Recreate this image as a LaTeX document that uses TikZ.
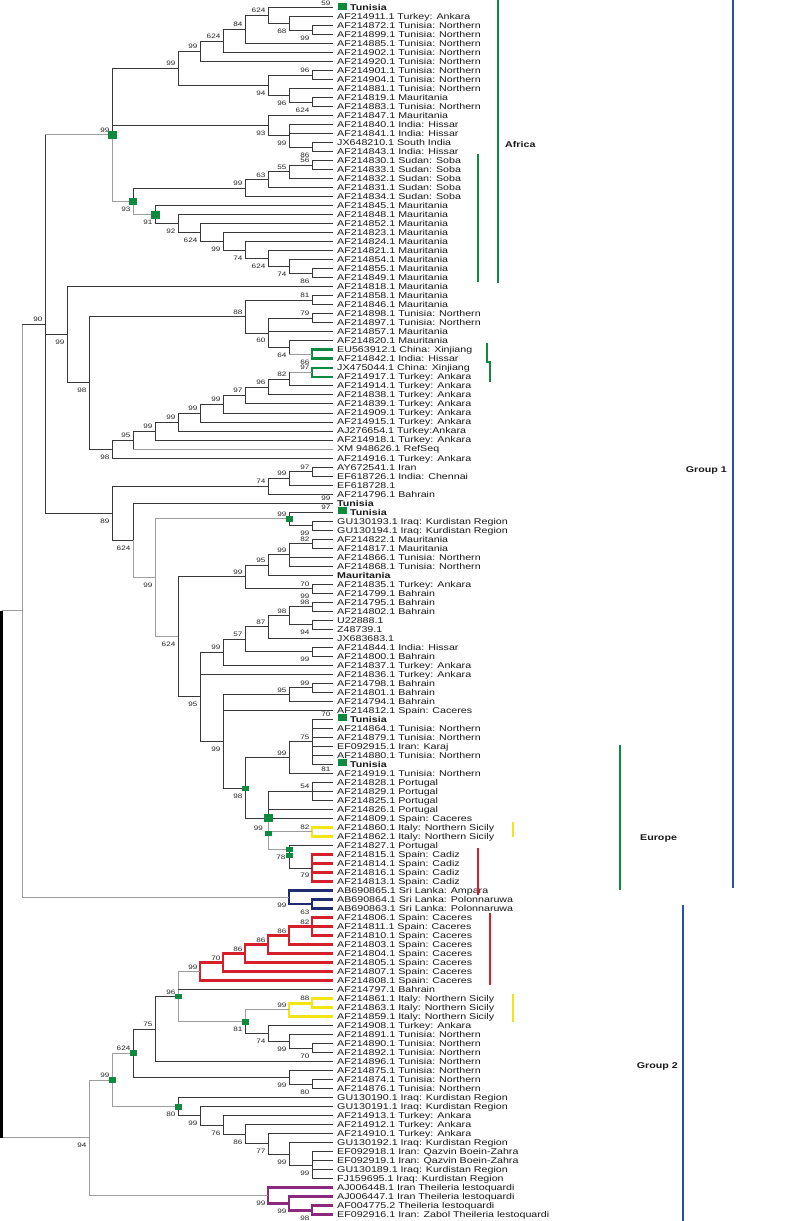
\documentclass[tikz,border=0pt]{standalone}
\usepackage{fontspec}
\setmainfont{Liberation Sans}[FakeStretch=1.27]
\usetikzlibrary{calc}
\definecolor{grn}{RGB}{14,138,62}
\definecolor{redc}{RGB}{213,32,44}
\definecolor{yelc}{RGB}{245,228,20}
\definecolor{navc}{RGB}{30,45,110}
\definecolor{purc}{RGB}{140,40,125}
\definecolor{bluc}{RGB}{40,80,165}
\newcommand{\leaffont}{\fontsize{8.4}{9}\selectfont}
\newcommand{\bsfont}{\fontsize{6.4}{7}\selectfont}
\newcommand{\mkcl}[4]{\path let \p1=(#3), \p2=(#4) in coordinate (#1) at (#2pt,{0.5*(\y1)+0.5*(\y2)});}
\newcommand{\clade}[5][br]{\mkcl{#2}{#3}{#4}{#5}\draw[#1] (#4) -- (#2 |- #4) -- (#2 |- #5) -- (#5);}
\newcommand{\hcon}[3][br]{\draw[#1] (#2 |- #3) -- (#3);}
\newcommand{\bsA}[2]{\node[bsa] at (#1) {#2};}
\newcommand{\bsB}[2]{\node[bsb] at (#1) {#2};}
\newcommand{\nsq}[3]{\fill[grn] ([shift={(-#2/2,-#3/2)}]#1) rectangle ++(#2,#3);}
\newcommand{\lsq}[1]{\fill[grn] ([shift={(5,-5)}]#1) rectangle ++(9,7);}
\begin{document}
\begin{tikzpicture}[x=1pt,y=-1pt,
 br/.style={draw=black!78,line width=0.9pt},
 lbr/.style={draw=black!38,line width=0.9pt},
 gth/.style={draw=grn,line width=2.8pt,line join=miter},
 rth/.style={draw=redc,line width=2.8pt,line join=miter},
 yth/.style={draw=yelc,line width=2.8pt,line join=miter},
 nth/.style={draw=navc,line width=2.8pt,line join=miter},
 pth/.style={draw=purc,line width=2.8pt,line join=miter},
 leaf/.style={anchor=base west,inner sep=0pt,font=\leaffont,xshift=4pt,yshift=-3pt,text=black!90},
 bleaf/.style={leaf,font=\leaffont\bfseries},
 bsa/.style={anchor=base east,inner sep=0pt,font=\bsfont,xshift=-2.5pt,yshift=2.5pt,text=black!85},
 bsb/.style={anchor=base east,inner sep=0pt,font=\bsfont,xshift=-2.5pt,yshift=-10pt,text=black!85},
 grp/.style={inner sep=0pt,font=\leaffont\bfseries,text=black!90}]
\useasboundingbox (0,0) rectangle (788,1221);
\fill[white] (0,0) rectangle (788,1221);
\foreach \i in {1,...,135}{\coordinate (t\i) at (333,{7.5+9.01*(\i-1)});}
% ---------- leaf labels
\foreach \i/\s in {2/AF214911.1 Turkey: Ankara,3/AF214872.1 Tunisia: Northern,4/AF214899.1 Tunisia: Northern,5/AF214885.1 Tunisia: Northern,6/AF214902.1 Tunisia: Northern,7/AF214920.1 Tunisia: Northern,8/AF214901.1 Tunisia: Northern,9/AF214904.1 Tunisia: Northern,10/AF214881.1 Tunisia: Northern,11/AF214819.1 Mauritania,12/AF214883.1 Tunisia: Northern,13/AF214847.1 Mauritania,14/AF214840.1 India: Hissar,15/AF214841.1 India: Hissar,16/JX648210.1 South India,17/AF214843.1 India: Hissar,18/AF214830.1 Sudan: Soba,19/AF214833.1 Sudan: Soba,20/AF214832.1 Sudan: Soba,21/AF214831.1 Sudan: Soba,22/AF214834.1 Sudan: Soba,23/AF214845.1 Mauritania,24/AF214848.1 Mauritania,25/AF214852.1 Mauritania,26/AF214823.1 Mauritania,27/AF214824.1 Mauritania,28/AF214821.1 Mauritania,29/AF214854.1 Mauritania,30/AF214855.1 Mauritania,31/AF214849.1 Mauritania,32/AF214818.1 Mauritania,33/AF214858.1 Mauritania,34/AF214846.1 Mauritania,35/AF214898.1 Tunisia: Northern,36/AF214897.1 Tunisia: Northern,37/AF214857.1 Mauritania,38/AF214820.1 Mauritania,39/EU563912.1 China: Xinjiang,40/AF214842.1 India: Hissar,41/JX475044.1 China: Xinjiang,42/AF214917.1 Turkey: Ankara,43/AF214914.1 Turkey: Ankara,44/AF214838.1 Turkey: Ankara,45/AF214839.1 Turkey: Ankara,46/AF214909.1 Turkey: Ankara,47/AF214915.1 Turkey: Ankara,48/AJ276654.1 Turkey:Ankara,49/AF214918.1 Turkey: Ankara,50/XM 948626.1 RefSeq,51/AF214916.1 Turkey: Ankara,52/AY672541.1 Iran,53/EF618726.1 India: Chennai,54/EF618728.1,55/AF214796.1 Bahrain,58/GU130193.1 Iraq: Kurdistan Region,59/GU130194.1 Iraq: Kurdistan Region,60/AF214822.1 Mauritania,61/AF214817.1 Mauritania,62/AF214866.1 Tunisia: Northern,63/AF214868.1 Tunisia: Northern,65/AF214835.1 Turkey: Ankara,66/AF214799.1 Bahrain,67/AF214795.1 Bahrain,68/AF214802.1 Bahrain,69/U22888.1,70/Z48739.1,71/JX683683.1,72/AF214844.1 India: Hissar,73/AF214800.1 Bahrain,74/AF214837.1 Turkey: Ankara,75/AF214836.1 Turkey: Ankara,76/AF214798.1 Bahrain,77/AF214801.1 Bahrain,78/AF214794.1 Bahrain,79/AF214812.1 Spain: Caceres,81/AF214864.1 Tunisia: Northern,82/AF214879.1 Tunisia: Northern,83/EF092915.1 Iran: Karaj,84/AF214880.1 Tunisia: Northern,86/AF214919.1 Tunisia: Northern,87/AF214828.1 Portugal,88/AF214829.1 Portugal,89/AF214825.1 Portugal,90/AF214826.1 Portugal,91/AF214809.1 Spain: Caceres,92/AF214860.1 Italy: Northern Sicily,93/AF214862.1 Italy: Northern Sicily,94/AF214827.1 Portugal,95/AF214815.1 Spain: Cadiz,96/AF214814.1 Spain: Cadiz,97/AF214816.1 Spain: Cadiz,98/AF214813.1 Spain: Cadiz,99/AB690865.1 Sri Lanka: Ampara,100/AB690864.1 Sri Lanka: Polonnaruwa,101/AB690863.1 Sri Lanka: Polonnaruwa,102/AF214806.1 Spain: Caceres,103/AF214811.1 Spain: Caceres,104/AF214810.1 Spain: Caceres,105/AF214803.1 Spain: Caceres,106/AF214804.1 Spain: Caceres,107/AF214805.1 Spain: Caceres,108/AF214807.1 Spain: Caceres,109/AF214808.1 Spain: Caceres,110/AF214797.1 Bahrain,111/AF214861.1 Italy: Northern Sicily,112/AF214863.1 Italy: Northern Sicily,113/AF214859.1 Italy: Northern Sicily,114/AF214908.1 Turkey: Ankara,115/AF214891.1 Tunisia: Northern,116/AF214890.1 Tunisia: Northern,117/AF214892.1 Tunisia: Northern,118/AF214896.1 Tunisia: Northern,119/AF214875.1 Tunisia: Northern,120/AF214874.1 Tunisia: Northern,121/AF214876.1 Tunisia: Northern,122/GU130190.1 Iraq: Kurdistan Region,123/GU130191.1 Iraq: Kurdistan Region,124/AF214913.1 Turkey: Ankara,125/AF214912.1 Turkey: Ankara,126/AF214910.1 Turkey: Ankara,127/GU130192.1 Iraq: Kurdistan Region,128/EF092918.1 Iran: Qazvin Boein-Zahra,129/EF092919.1 Iran: Qazvin Boein-Zahra,130/GU130189.1 Iraq: Kurdistan Region,131/FJ159695.1 Iraq: Kurdistan Region,132/AJ006448.1 Iran Theileria lestoquardi,133/AJ006447.1 Iran Theileria lestoquardi,134/AF004775.2 Theileria lestoquardi,135/EF092916.1 Iran: Zabol Theileria lestoquardi}
 {\node[leaf] (L\i) at (t\i) {\s};}
\foreach \i in {1,57,80,85}{\lsq{t\i}\node[bleaf,xshift=13pt] (L\i) at (t\i) {Tunisia};}
\node[bleaf] (L56) at (t56) {Tunisia};
\node[bleaf] (L64) at (t64) {Mauritania};
\bsA{t1}{59} \bsA{t57}{97} \bsA{t56}{99} \bsA{t80}{70}
\node[bsb,yshift=2.5pt] at (t85) {81};
% ---------- Africa block
\clade{a1}{312}{t3}{t4} \bsB{a1}{99}
\clade{a2}{289}{t2}{a1} \bsB{a2}{68}
\clade{a3}{268}{t1}{a2} \bsA{a3}{624}
\clade{a4}{245}{a3}{t5} \bsA{a4}{84}
\clade{a5}{223}{a4}{t6} \bsA{a5}{624}
\clade{a6}{200}{a5}{t7} \bsA{a6}{99}
\clade{a7}{312}{t8}{t9} \bsA{a7}{96}
\clade{a8}{312}{t11}{t12} \bsB{a8}{624}
\clade{a9}{289}{t10}{a8} \bsB{a9}{96}
\clade{a10}{268}{a7}{a9} \bsB{a10}{94}
\clade{a11}{178}{a6}{a10} \bsA{a11}{99}
\clade{a12}{312}{t16}{t17} \bsB{a12}{86}
\clade{a13}{289}{t14}{a12} \hcon{a13}{t15} \bsB{a13}{99}
\clade{a14}{268}{t13}{a13} \bsB{a14}{93}
\clade{s1}{312}{t18}{t19} \bsA{s1}{56}
\clade{s2}{289}{s1}{t20} \bsA{s2}{55}
\clade{s3}{268}{s2}{t21} \bsA{s3}{63}
\clade{s4}{245}{s3}{t22} \bsA{s4}{99}
\clade{m1}{312}{t30}{t31} \bsB{m1}{86}
\clade{m2}{289}{t29}{m1} \bsB{m2}{74}
\clade{m3}{268}{t28}{m2} \bsB{m3}{624}
\clade{m4}{245}{t27}{m3} \bsB{m4}{74}
\clade{m5}{223}{t26}{m4} \bsB{m5}{99}
\clade{m6}{200}{t25}{m5} \bsB{m6}{624}
\clade{m7}{178}{t24}{m6} \bsB{m7}{92}
\clade{m8}{155}{t23}{m7} \bsB{m8}{91}
\mkcl{I}{133}{s4}{m8}
\draw[br] (s4) -- (I |- s4) -- (I);
\draw[lbr] (I) -- (I |- m8) -- (m8);
\bsB{I}{93}
\mkcl{H}{112}{a11}{I}
\draw[br] (a11) -- (H |- a11) -- (H);
\draw[lbr] (H) -- (H |- I) -- (I);
\hcon{H}{a14} \bsA{H}{99}
% ---------- middle block
\clade{b1}{312}{t33}{t34} \bsA{b1}{81}
\clade{b2}{312}{t35}{t36} \bsA{b2}{79}
\clade[gth]{gr1}{312}{t39}{t40} \bsB{gr1}{66}
\mkcl{b3}{289}{t38}{gr1}
\draw[br] (t38) -- (b3 |- t38) -- (b3 |- gr1); \draw[lbr] (b3 |- gr1) -- (gr1);
\bsB{b3}{64}
\clade{b4}{268}{b2}{b3} \hcon{b4}{t37} \bsB{b4}{60}
\clade{b5}{245}{b1}{b4} \bsA{b5}{88}
\clade[gth]{gr2}{312}{t41}{t42} \bsA{gr2}{97}
\mkcl{c1}{289}{gr2}{t43}
\draw[lbr] (gr2) -- (c1 |- gr2); \draw[br] (c1 |- gr2) -- (c1 |- t43) -- (t43);
\bsA{c1}{82}
\clade{c2}{268}{c1}{t44} \bsA{c2}{96}
\clade{c3}{245}{c2}{t45} \bsA{c3}{97}
\clade{c4}{223}{c3}{t46} \bsA{c4}{99}
\clade{c5}{200}{c4}{t47} \bsA{c5}{99}
\clade{c6}{178}{c5}{t48} \bsA{c6}{99}
\clade{c7}{155}{c6}{t49} \bsA{c7}{99}
\mkcl{c8}{133}{c7}{t50}
\draw[br] (c7) -- (c8 |- c7) -- (c8 |- t50); \draw[lbr] (c8 |- t50) -- (t50);
\bsA{c8}{95}
\clade{c9}{112}{c8}{t51} \bsB{c9}{98}
\clade{c10}{89}{b5}{c9} \bsB{c10}{98}
\clade{c11}{67}{t32}{c10} \bsB{c11}{99}
% ---------- lower group 1
\clade{d1}{312}{t52}{t53} \bsA{d1}{97}
\clade{d2}{289}{d1}{t54} \bsA{d2}{99}
\clade{d3}{268}{d2}{t55} \bsA{d3}{74}
\clade{e1}{312}{t58}{t59} \bsB{e1}{99}
\clade{e2}{289}{t57}{e1} \bsA{e2}{99}
\clade{e3}{312}{t60}{t61} \bsA{e3}{82}
\clade{e4}{289}{e3}{t63} \hcon{e4}{t62} \bsA{e4}{99}
\clade{e5}{268}{e4}{t64} \bsA{e5}{95}
\clade{e6}{312}{t65}{t66} \bsA{e6}{70} \bsB{e6}{99}
\clade{e7}{245}{e5}{e6} \bsA{e7}{99}
\clade{f1}{312}{t67}{t68} \bsA{f1}{98}
\clade{f2}{312}{t69}{t70} \bsB{f2}{94}
\clade{f3}{289}{f1}{f2} \bsA{f3}{98}
\clade{f4}{268}{f3}{t71} \bsA{f4}{87}
\clade{f5}{312}{t72}{t73} \bsB{f5}{99}
\clade{f6}{245}{f4}{f5} \bsA{f6}{57}
\clade{f7}{223}{f6}{t74} \bsA{f7}{99}
\clade{g1}{312}{t76}{t77} \bsA{g1}{99}
\clade{g2}{289}{g1}{t78} \bsA{g2}{95}
\clade{h1}{312}{t80}{t85} \foreach \k in {81,...,84}{\hcon{h1}{t\k}} \bsA{h1}{75}
\clade{h2}{289}{h1}{t86} \bsA{h2}{99}
\clade{p1}{312}{t87}{t89} \hcon{p1}{t88} \bsA{p1}{54}
\clade[yth]{y1}{312}{t92}{t93} \bsA{y1}{82}
\clade[rth]{r0}{312}{t95}{t98} \hcon[rth]{r0}{t96} \hcon[rth]{r0}{t97} \bsB{r0}{79}
\path (t91) ++(-65,0) coordinate (X);
\path (X) ++(21,31) coordinate (K);
\path (X) ++(0,15) coordinate (Xs);
\path (K) ++(0,6) coordinate (K2);
\draw[br] (p1) -- (X |- p1) -- (X) -- (t91);
\hcon{X}{t90}
\draw[lbr] (X) -- (X |- K) -- (K);
\draw[lbr] (X |- y1) -- (y1);
\draw[br] (t94) -- (K |- t94) -- (K |- r0) -- (r0);
\node[bsa,xshift=-2.5pt] at (Xs) {99};
\node[bsa,xshift=-1pt,yshift=-6.5pt] at (K2) {78};
\mkcl{h3}{245}{h2}{X}
\draw[br] (h2) -- (h3 |- h2) -- (h3 |- X) -- (X);
\bsB{h3}{98}
\clade{g3}{223}{g2}{h3} \hcon{g3}{t79} \bsB{g3}{99}
\clade{g4}{200}{f7}{g3} \hcon{g4}{t75} \bsB{g4}{95}
\clade{g5}{178}{e7}{g4} \bsB{g5}{624}
\clade[lbr]{g6}{155}{e2}{g5} \bsB{g6}{99}
\mkcl{g7}{133}{t56}{g6}
\draw[br] (t56) -- (g7 |- t56) -- (g7); \draw[lbr] (g7) -- (g7 |- g6) -- (g6);
\bsB{g7}{624}
\clade{g8}{112}{d3}{g7} \bsB{g8}{89}
\mkcl{n90}{45}{H}{g8}
\draw[lbr] (H) -- (n90 |- H);
\draw[br] (n90 |- H) -- (n90 |- g8) -- (g8);
\hcon{n90}{c11} \bsA{n90}{90}
% ---------- Sri Lanka
\clade[nth]{sl1}{312}{t100}{t101} \bsB{sl1}{63}
\clade[nth]{sl2}{289}{t99}{sl1} \bsB{sl2}{99}
\mkcl{n22}{22}{n90}{sl2}
\draw[lbr] (n22 |- n90) -- (n22 |- sl2) -- (sl2);
\draw[br] (n22 |- n90) -- (n90);
% ---------- Group 2
\clade[rth]{R1}{312}{t102}{t104} \hcon[rth]{R1}{t103} \bsA{R1}{82}
\clade[rth]{R2}{289}{R1}{t105} \bsA{R2}{86}
\clade[rth]{R3}{268}{R2}{t106} \bsA{R3}{86}
\clade[rth]{R4}{245}{R3}{t107} \bsA{R4}{86}
\clade[rth]{R5}{223}{R4}{t108} \bsA{R5}{70}
\clade[rth]{R6}{200}{R5}{t109} \bsA{R6}{99}
\clade[yth]{Y1}{312}{t111}{t112} \bsA{Y1}{88}
\clade[yth]{Y2}{289}{Y1}{t113} \bsA{Y2}{99}
\clade{T1}{312}{t116}{t117} \bsB{T1}{70}
\clade{T2}{289}{t115}{T1} \bsB{T2}{99}
\clade{T3}{268}{t114}{T2} \bsB{T3}{74}
\mkcl{n81}{245}{Y2}{T3}
\draw[lbr] (Y2) -- (n81 |- Y2) -- (n81); \draw[br] (n81) -- (n81 |- T3) -- (T3);
\bsB{n81}{81}
\mkcl{n96}{178}{R6}{n81}
\draw[lbr] (R6) -- (n96 |- R6) -- (n96 |- n81) -- (n81);
\hcon{n96}{t110} \bsA{n96}{96}
\clade{n75}{155}{n96}{t118} \bsA{n75}{75}
\clade{U1}{312}{t120}{t121} \bsB{U1}{80}
\clade{U2}{289}{t119}{U1} \bsB{U2}{99}
\clade{n624b}{133}{n75}{U2} \bsA{n624b}{624}
\clade{V1}{312}{t128}{t131} \hcon{V1}{t129} \hcon{V1}{t130} \bsB{V1}{99}
\clade{V2}{289}{t127}{V1} \bsB{V2}{99}
\clade{V3}{268}{t126}{V2} \bsB{V3}{77}
\clade{V4}{245}{t125}{V3} \bsB{V4}{86}
\clade{V5}{223}{t124}{V4} \bsB{V5}{76}
\clade{V6}{200}{t123}{V5} \bsB{V6}{99}
\clade{n80}{178}{t122}{V6} \bsB{n80}{80}
\clade[lbr]{n99b}{112}{n624b}{n80} \bsA{n99b}{99}
\clade[pth]{W1}{312}{t134}{t135} \bsB{W1}{98}
\clade[pth]{W2}{289}{t133}{W1} \bsB{W2}{99}
\clade[pth]{W3}{268}{t132}{W2} \bsB{W3}{99}
\mkcl{n94}{89}{n99b}{W3}
\draw[lbr] (n99b) -- (n94 |- n99b) -- (n94 |- W3) -- (W3);
\bsB{n94}{94}
% ---------- root
\mkcl{root}{1.5}{n22}{n94}
\draw[lbr] (root |- n22) -- (n22);
\draw[lbr] (root |- n94) -- (n94);
\draw[black,line width=2.6pt] (root |- n22) -- (root |- n94);
% ---------- squares
\nsq{H}{9}{8} \nsq{I}{8}{7} \nsq{m8}{9}{8} \nsq{e2}{7}{6} \nsq{h3}{7}{5}
\nsq{X}{9}{8} \nsq{Xs}{7}{5} \nsq{K}{7}{5} \nsq{K2}{7}{5}
\nsq{n96}{7}{5} \nsq{n81}{7}{6} \nsq{n624b}{7}{6} \nsq{n99b}{7}{6} \nsq{n80}{7}{6}
% ---------- side bars
\draw[grn,line width=2.8pt] (498,0) -- (498,283);
\draw[grn,line width=2.4pt] (478,154) -- (478,282);
\node[grp,anchor=base west] (africa) at (505,147) {Africa};
\draw[grn,line width=2pt] (486.5,343) -- (486.5,362) -- (489.5,362) -- (489.5,382);
\draw[bluc,line width=2.8pt] (733,0) -- (733,888);
\node[grp,anchor=base east] (g1) at (727,472) {Group 1};
\draw[grn,line width=2.4pt] (620,745) -- (620,890);
\node[grp,anchor=base west] (eur) at (640,840) {Europe};
\draw[yelc,line width=2.4pt] (513,822) -- (513,837);
\draw[redc,line width=2.4pt] (478,848) -- (478,895);
\draw[redc,line width=2.4pt] (490,913) -- (490,985);
\draw[yelc,line width=2.4pt] (513,994) -- (513,1022);
\draw[bluc,line width=2.8pt] (683,905) -- (683,1221);
\node[grp,anchor=base east] (g2) at (678,1068) {Group 2};
\end{tikzpicture}
\end{document}
